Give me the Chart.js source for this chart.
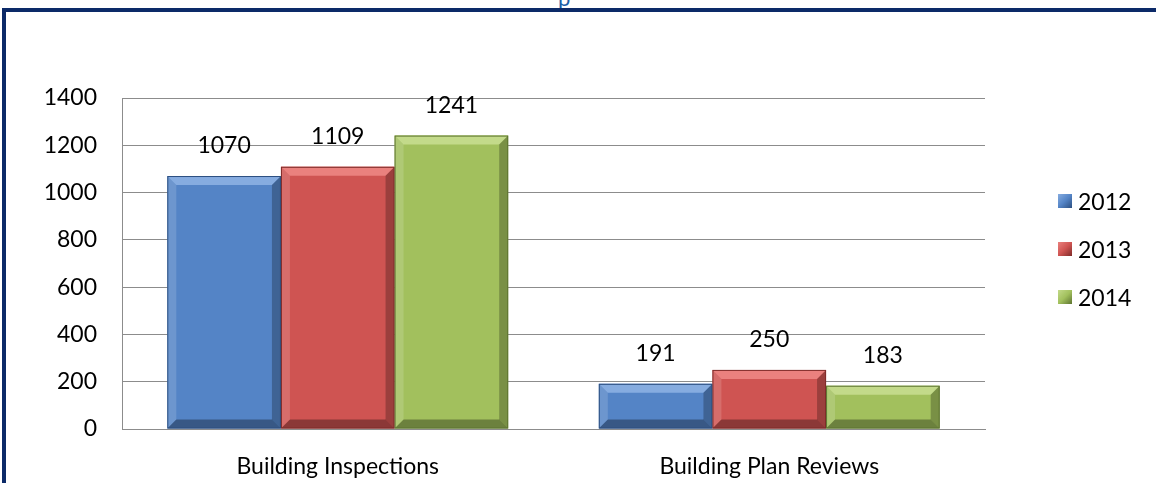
<!DOCTYPE html>
<html>
<head>
<meta charset="utf-8">
<script src="https://cdn.jsdelivr.net/npm/chart.js@4/dist/chart.umd.min.js"></script>
<style>
  html, body { margin: 0; padding: 0; background: #fff; overflow: hidden; }
  body { width: 1156px; height: 483px; position: relative; font-family: Lato, sans-serif; }
  #frame { position: absolute; left: 2px; top: 8px; width: 1200px; height: 520px; border: 4px solid #0c2a68; box-sizing: border-box; }
  #title { position: absolute; left: 558px; top: -16px; color: #1f5fa8; font-size: 22px; }
  #wrap { position: absolute; left: 0; top: 0; width: 1156px; height: 483px; }
  #legend { position: absolute; left: 1058px; top: 188px; font-size: 23px; color: #000; }
  #legend div { height: 48px; line-height: 26px; display: flex; align-items: flex-start; }
  #legend span.box { display: inline-block; width: 14px; height: 14px; margin: 6px 6px 0 0; box-sizing: border-box; }
</style>
</head>
<body>
<div id="title">p</div>
<div id="frame"></div>
<div id="wrap"><canvas id="myChart" width="1156" height="483"></canvas></div>
<div id="legend"></div>
<script>
var categories = ["Building Inspections", "Building Plan Reviews"];
var years = ["2012", "2013", "2014"];
var values2012 = [1070, 191];
var values2013 = [1109, 250];
var values2014 = [1241, 183];
var yTicks = [0, 200, 400, 600, 800, 1000, 1200, 1400];

var faceColors = ["#5484c6", "#cf5452", "#a2c05d"];
var lightColors = ["#86ace0", "#ea817e", "#c3da8a"];
var darkColors = ["#2c4f80", "#7e2b29", "#5d7430"];

// legend as html
var legendEl = document.getElementById("legend");
years.forEach(function (y, i) {
  var row = document.createElement("div");
  var box = document.createElement("span");
  box.className = "box";
  box.style.background = "linear-gradient(135deg, " + lightColors[i] + ", " + faceColors[i] + " 50%, " + darkColors[i] + ")";
  row.appendChild(box);
  row.appendChild(document.createTextNode(y));
  legendEl.appendChild(row);
});

function shade(ctx, pts, color) {
  ctx.beginPath();
  ctx.moveTo(pts[0][0], pts[0][1]);
  for (var i = 1; i < pts.length; i++) ctx.lineTo(pts[i][0], pts[i][1]);
  ctx.closePath();
  ctx.fillStyle = color;
  ctx.fill();
}

// bevel + value labels
var bevelPlugin = {
  id: "bevel",
  afterDatasetsDraw: function (chart) {
    var ctx = chart.ctx;
    ctx.save();
    chart.data.datasets.forEach(function (ds, di) {
      var meta = chart.getDatasetMeta(di);
      meta.data.forEach(function (bar, i) {
        var l = bar.x - bar.width / 2, r = bar.x + bar.width / 2;
        var t = bar.y, b = bar.base;
        var bv = Math.min(9, (b - t) / 3);
        shade(ctx, [[l, t], [r, t], [r - bv, t + bv], [l + bv, t + bv]], lightColors[di]);
        shade(ctx, [[l, t], [l + bv, t + bv], [l + bv, b - bv], [l, b]], "rgba(255,255,255,0.15)");
        shade(ctx, [[r, t], [r, b], [r - bv, b - bv], [r - bv, t + bv]], "rgba(0,0,0,0.25)");
        shade(ctx, [[l, b], [l + bv, b - bv], [r - bv, b - bv], [r, b]], "rgba(0,0,0,0.33)");
        ctx.strokeStyle = darkColors[di];
        ctx.lineWidth = 1;
        ctx.strokeRect(l + 0.5, t + 0.5, bar.width - 1, b - t - 1);
        ctx.fillStyle = "#000";
        ctx.font = "23px Lato";
        ctx.textAlign = "center";
        ctx.textBaseline = "middle";
        ctx.fillText(ds.data[i], bar.x, t - 30);
      });
    });
    ctx.restore();
  }
};

var ctx = document.getElementById("myChart").getContext("2d");
var chart = new Chart(ctx, {
  type: "bar",
  data: {
    labels: categories,
    datasets: [
      { label: years[0], data: values2012, backgroundColor: faceColors[0] },
      { label: years[1], data: values2013, backgroundColor: faceColors[1] },
      { label: years[2], data: values2014, backgroundColor: faceColors[2] },
    ],
  },
  options: {
    responsive: false,
    animation: false,
    layout: { padding: { top: 98, left: 0, right: 171, bottom: 0 } },
    plugins: { legend: { display: false }, tooltip: { enabled: false } },
    datasets: { bar: { categoryPercentage: 0.79, barPercentage: 1 } },
    scales: {
      x: {
        afterFit: function (axis) { axis.height = 54; },
        grid: { display: false, drawTicks: false },
        border: { color: "#8c8c8c", width: 1 },
        ticks: { color: "#000", font: { family: "Lato", size: 23 }, padding: 24, maxRotation: 0 },
      },
      y: {
        min: 0,
        max: 1400,
        afterFit: function (axis) { axis.width = 122; },
        afterBuildTicks: function (axis) {
          axis.ticks = yTicks.map(function (v) { return { value: v }; });
        },
        grid: { color: "#8c8c8c", drawTicks: false, lineWidth: 1 },
        border: { color: "#8c8c8c", width: 1 },
        ticks: {
          color: "#000",
          font: { family: "Lato", size: 23 },
          padding: 25,
          callback: function (v) { return String(v); },
        },
      },
    },
  },
  plugins: [bevelPlugin],
});
</script>
</body>
</html>
